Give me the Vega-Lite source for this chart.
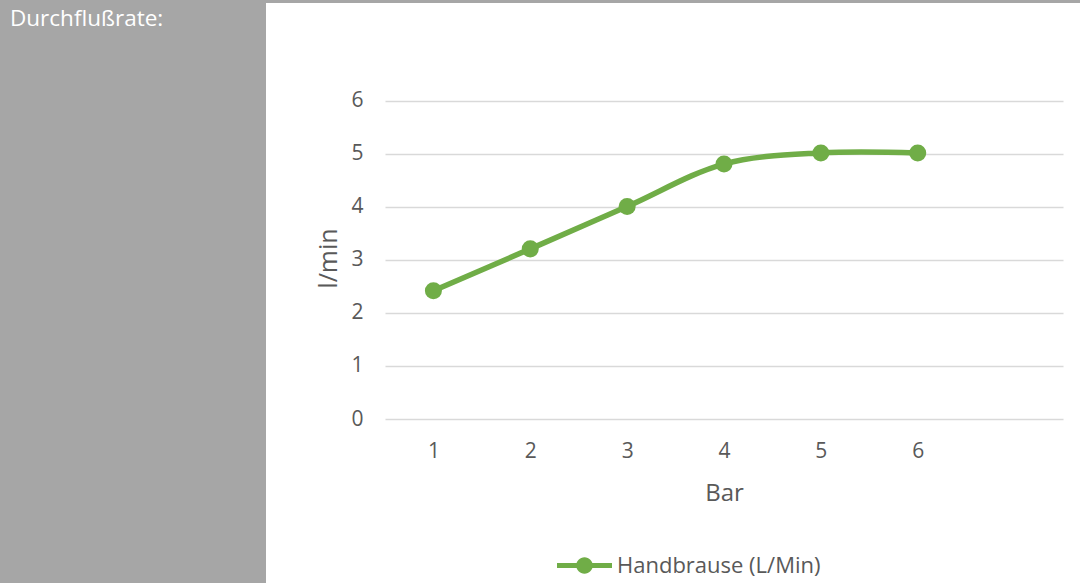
{
  "$schema": "https://vega.github.io/schema/vega-lite/v6.json",
  "background": "white",
  "padding": 0,
  "spacing": 0,
  "bounds": "flush",
  "config": {
    "font": "Open Sans",
    "view": {"stroke": null},
    "axis": {"labelColor": "#595959", "titleColor": "#595959", "labelFont": "Open Sans", "titleFont": "Open Sans", "titleFontWeight": "normal"}
  },
  "vconcat": [
    {
      "width": 1080,
      "height": 3,
      "view": {"fill": "#a6a6a6", "stroke": null},
      "data": {"values": []},
      "mark": "point"
    },
    {
      "bounds": "flush",
      "spacing": 119,
      "hconcat": [
        {
          "width": 266,
          "height": 580,
          "view": {"fill": "#a6a6a6", "stroke": null},
          "title": {
            "text": "Durchflußrate:",
            "anchor": "start",
            "frame": "group",
            "orient": "top",
            "offset": -45,
            "baseline": "alphabetic",
            "dx": 10,
            "color": "white",
            "fontSize": 22.5,
            "fontWeight": "normal",
            "font": "Open Sans"
          },
          "data": {"values": []},
          "mark": "point"
        },
        {
          "width": 678,
          "height": 416,
          "data": {
            "values": [
              {"bar": 1, "flow": 2.42, "series": "Handbrause (L/Min)"},
              {"bar": 2, "flow": 3.21, "series": "Handbrause (L/Min)"},
              {"bar": 3, "flow": 4.01, "series": "Handbrause (L/Min)"},
              {"bar": 4, "flow": 4.81, "series": "Handbrause (L/Min)"},
              {"bar": 5, "flow": 5.02, "series": "Handbrause (L/Min)"},
              {"bar": 6, "flow": 5.02, "series": "Handbrause (L/Min)"}
            ]
          },
          "encoding": {
            "x": {
              "field": "bar",
              "type": "quantitative",
              "title": "Bar",
              "scale": {"domain": [0.5, 7.5], "nice": false, "zero": false},
              "axis": {
                "values": [1, 2, 3, 4, 5, 6],
                "format": "d",
                "grid": false,
                "domain": false,
                "ticks": false,
                "labelFontSize": 21,
                "labelPadding": 21,
                "titleFontSize": 24,
                "titlePadding": 20
              }
            },
            "y": {
              "field": "flow",
              "type": "quantitative",
              "title": "l/min",
              "scale": {"domain": [0, 7.849], "nice": false, "zero": true},
              "axis": {
                "values": [0, 1, 2, 3, 4, 5, 6],
                "grid": true,
                "gridColor": "#d9d9d9",
                "gridWidth": 1.3,
                "domain": false,
                "ticks": false,
                "labelFontSize": 21,
                "labelPadding": 22,
                "titleFontSize": 25,
                "titlePadding": 9,
                "titleY": 255
              }
            },
            "color": {
              "field": "series",
              "type": "nominal",
              "scale": {"range": ["#70ad47"]},
              "legend": {
                "title": null,
                "orient": "none",
                "legendX": 557,
                "legendY": 538,
                "symbolType": "M-1,-0.09L1,-0.09L1,0.09L-1,0.09Z M-0.3,0A0.3,0.3 0 1,1 0.3,0A0.3,0.3 0 1,1 -0.3,0Z",
                "symbolSize": 3025,
                "labelFontSize": 22,
                "labelColor": "#595959",
                "labelFont": "Open Sans",
                "labelOffset": 5,
                "labelLimit": 500,
                "encode": {
                  "symbols": {
                    "update": {
                      "fill": {"value": "#70ad47"},
                      "stroke": {"value": "transparent"},
                      "strokeWidth": {"value": 0},
                      "opacity": {"value": 1}
                    }
                  }
                }
              }
            }
          },
          "layer": [
            {
              "mark": {"type": "line", "interpolate": "catmull-rom", "strokeWidth": 5.5, "strokeCap": "round"}
            },
            {
              "mark": {"type": "point", "filled": true, "size": 290, "opacity": 1}
            }
          ]
        }
      ]
    }
  ]
}
